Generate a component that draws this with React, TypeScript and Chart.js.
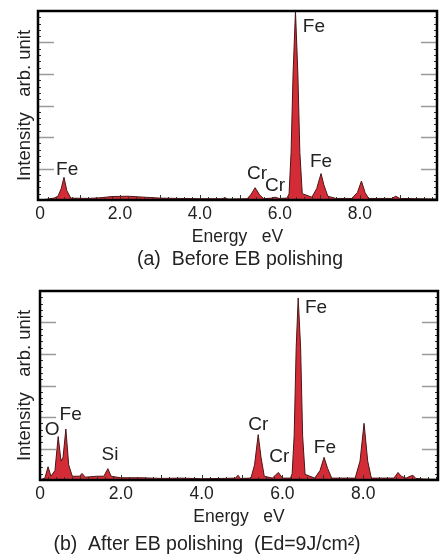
import React, { useEffect, useRef } from "react";
import { Chart, registerables } from "chart.js";

Chart.register(...registerables);

const FONT = '"Liberation Sans", Arial, sans-serif';
const TEXT = "#222";

// Panel (a) Before EB polishing
const energyA = [0, 0.2, 0.35, 0.45, 0.53, 0.6, 0.67, 0.77, 1.2, 1.5, 1.8, 2.2, 2.6, 3.0, 3.5, 4.0, 4.55, 4.63, 4.7, 5.18, 5.28, 5.38, 5.5, 5.6, 5.8, 5.88, 5.98, 6.18, 6.23, 6.28, 6.33, 6.39, 6.45, 6.5, 6.56, 6.8, 6.92, 7.03, 7.1, 7.2, 7.4, 7.8, 7.94, 8.04, 8.13, 8.22, 8.8, 8.9, 9.0, 9.93];
const intensityA = [0, 3, 6, 12, 36, 72, 30, 6, 5, 7, 11, 12, 9, 6, 5, 4, 4, 7, 3, 4, 18, 39, 15, 4, 6, 9, 5, 6, 20, 150, 400, 600, 400, 150, 20, 9, 36, 84, 48, 12, 5, 5, 24, 60, 24, 5, 5, 12, 5, 3];
const peakTextA = ["Fe", "Cr", "Cr", "Fe", "Fe"];
const peakEnergyA = [0.68, 5.43, 5.88, 6.85, 7.03];
const peakLevelA = [95, 83, 44, 549, 121];

// Panel (b) After EB polishing
const energyB = [0, 0.12, 0.2, 0.27, 0.37, 0.45, 0.52, 0.57, 0.64, 0.71, 0.8, 0.98, 1.04, 1.12, 1.4, 1.58, 1.68, 1.76, 2.0, 2.5, 3.0, 3.5, 4.0, 4.5, 4.84, 4.9, 4.96, 5.22, 5.31, 5.4, 5.47, 5.55, 5.75, 5.9, 6.0, 6.2, 6.24, 6.29, 6.34, 6.39, 6.45, 6.5, 6.56, 6.8, 6.93, 7.03, 7.12, 7.22, 7.8, 7.92, 8.02, 8.11, 8.2, 8.76, 8.86, 8.94, 9.06, 9.16, 9.23, 9.3, 9.5, 9.85];
const intensityB = [0, 6, 42, 12, 30, 138, 60, 72, 162, 48, 12, 12, 21, 9, 12, 12, 36, 12, 7, 7, 5, 6, 4, 5, 6, 15, 5, 6, 48, 144, 72, 12, 6, 24, 6, 6, 20, 140, 420, 578, 420, 140, 18, 6, 30, 72, 36, 6, 6, 60, 180, 60, 6, 6, 24, 12, 6, 12, 15, 5, 3, 2];
const peakTextB = ["O", "Fe", "Si", "Cr", "Cr", "Fe", "Fe"];
const peakEnergyB = [0.3, 0.76, 1.73, 5.4, 5.92, 6.83, 7.05];
const peakLevelB = [159, 206, 79, 175, 73, 546, 102];

const xTickValues = [0, 2, 4, 6, 8];
const xTickLabels = ["0", "2.0", "4.0", "6.0", "8.0"];

type PanelProps = {
  energy: number[];
  intensity: number[];
  peakText: string[];
  peakEnergy: number[];
  peakLevel: number[];
  caption: string;
  captionX: number;
  captionY: number;
  frameLeft: number;
  frameRight: number;
  xMin: number;
  xMax: number;
};

function Panel(p: PanelProps) {
  const ref = useRef<HTMLCanvasElement>(null);
  useEffect(() => {
    if (!ref.current) return;
    const decor = {
      id: "decor",
      afterDatasetsDraw(chart: any) {
        const { ctx, chartArea: a, scales } = chart;
        const xs = scales.x;
        const ys = scales.y;
        ctx.save();
        // y ticks (inside, both sides)
        for (let v = 20; v < 600; v += 20) {
          const y = Math.round(ys.getPixelForValue(v)) + 0.5;
          const major = v % 100 === 0;
          ctx.strokeStyle = major ? "#9a9a9a" : "#333";
          ctx.lineWidth = major ? 1.5 : 1;
          const len = major ? 16 : 3;
          ctx.beginPath();
          ctx.moveTo(a.left, y);
          ctx.lineTo(a.left + len, y);
          ctx.moveTo(a.right, y);
          ctx.lineTo(a.right - len, y);
          ctx.stroke();
        }
        // x ticks (inside, bottom)
        for (let i = 1; i * 0.2 < xs.max; i++) {
          const v = i * 0.2;
          const x = Math.round(xs.getPixelForValue(v)) + 0.5;
          const major = i % 5 === 0;
          ctx.strokeStyle = "#333";
          ctx.lineWidth = 1;
          ctx.beginPath();
          ctx.moveTo(x, a.bottom);
          ctx.lineTo(x, a.bottom - (major ? 5 : 3));
          ctx.stroke();
        }
        // frame
        ctx.strokeStyle = "#000";
        ctx.lineWidth = 2.5;
        ctx.strokeRect(a.left, a.top, a.right - a.left, a.bottom - a.top);
        // peak labels
        ctx.fillStyle = TEXT;
        ctx.font = `19px ${FONT}`;
        ctx.textAlign = "center";
        ctx.textBaseline = "middle";
        p.peakText.forEach((t, i) => {
          ctx.fillText(t, xs.getPixelForValue(p.peakEnergy[i]), ys.getPixelForValue(p.peakLevel[i]));
        });
        // caption
        ctx.font = `19.5px ${FONT}`;
        ctx.fillText(p.caption, p.captionX, p.captionY);
        ctx.restore();
      },
    };
    const chart = new Chart(ref.current, {
      type: "line",
      data: {
        datasets: [
          {
            data: p.energy.map((e, i) => ({ x: e, y: p.intensity[i] })),
            fill: "origin",
            backgroundColor: "#d42c37",
            borderColor: "#4a1616",
            borderWidth: 1,
            pointRadius: 0,
            tension: 0,
          },
        ],
      },
      options: {
        responsive: false,
        animation: false,
        devicePixelRatio: 1,
        layout: { padding: { left: 0, top: 11, right: 446 - p.frameRight, bottom: 0 } },
        plugins: { legend: { display: false }, tooltip: { enabled: false }, title: { display: false } },
        scales: {
          x: {
            type: "linear",
            min: p.xMin,
            max: p.xMax,
            afterFit: (s: any) => {
              s.height = 80;
            },
            afterBuildTicks: (s: any) => {
              s.ticks = xTickValues.map((v) => ({ value: v }));
            },
            ticks: {
              autoSkip: false,
              maxRotation: 0,
              padding: 4,
              color: TEXT,
              font: { family: FONT, size: 17.5 },
              callback: (_v: any, i: number) => xTickLabels[i],
            },
            grid: { display: false, drawTicks: false },
            border: { display: false },
            title: {
              display: true,
              text: "Energy   eV",
              color: TEXT,
              font: { family: FONT, size: 17.5 },
              padding: { top: 0, bottom: 32.5 },
            },
          },
          y: {
            min: 0,
            max: 600,
            afterFit: (s: any) => {
              s.width = p.frameLeft;
            },
            ticks: { display: false },
            grid: { display: false, drawTicks: false },
            border: { display: false },
            title: {
              display: true,
              text: "Intensity   arb. unit",
              color: TEXT,
              font: { family: FONT, size: 18.5 },
              padding: { top: 14, bottom: 0 },
            },
          },
        },
      } as any,
      plugins: [decor],
    });
    return () => chart.destroy();
  }, []);
  return <canvas ref={ref} width={446} height={280} style={{ display: "block", width: 446, height: 280 }} />;
}

export default function App() {
  return (
    <div style={{ position: "absolute", left: 0, top: 0, width: 446, height: 560, background: "#fff" }}>
      <Panel
        energy={energyA}
        intensity={intensityA}
        peakText={peakTextA}
        peakEnergy={peakEnergyA}
        peakLevel={peakLevelA}
        caption="(a)  Before EB polishing"
        captionX={240}
        captionY={260}
        frameLeft={38}
        frameRight={437}
        xMin={-0.05}
        xMax={9.93}
      />
      <Panel
        energy={energyB}
        intensity={intensityB}
        peakText={peakTextB}
        peakEnergy={peakEnergyB}
        peakLevel={peakLevelB}
        caption="(b)  After EB polishing  (Ed=9J/cm²)"
        captionX={207}
        captionY={265}
        frameLeft={40}
        frameRight={438}
        xMin={0}
        xMax={9.85}
      />
    </div>
  );
}
